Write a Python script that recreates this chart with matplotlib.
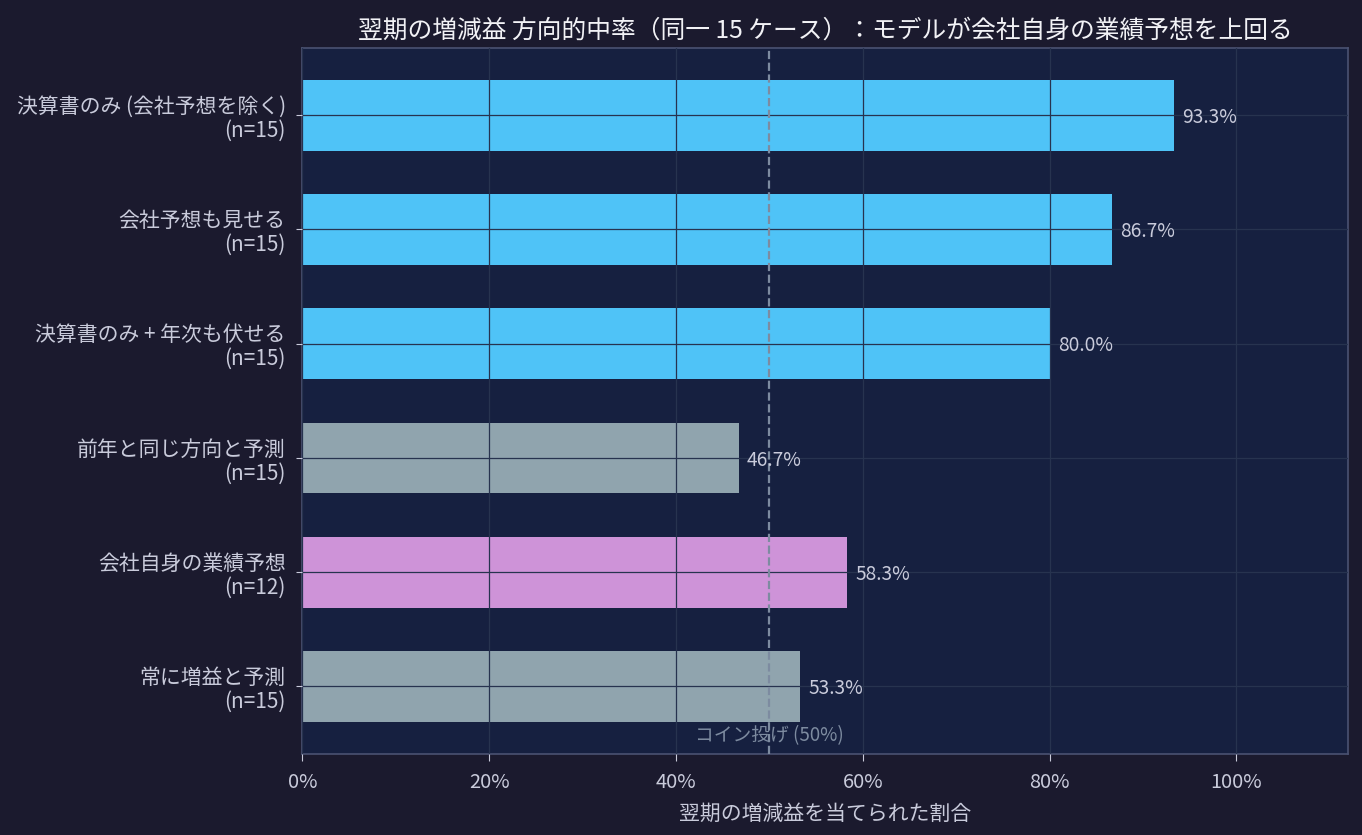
import matplotlib.pyplot as plt
from matplotlib.ticker import PercentFormatter

plt.rcParams['font.family'] = ['Noto Sans CJK JP', 'DejaVu Sans']

labels = [
    "決算書のみ (会社予想を除く)\n(n=15)",
    "会社予想も見せる\n(n=15)",
    "決算書のみ + 年次も伏せる\n(n=15)",
    "前年と同じ方向と予測\n(n=15)",
    "会社自身の業績予想\n(n=12)",
    "常に増益と予測\n(n=15)",
]
values = [0.933, 0.867, 0.800, 0.467, 0.583, 0.533]
colors = ["#4fc3f7", "#4fc3f7", "#4fc3f7", "#90a4ae", "#ce93d8", "#90a4ae"]

fig_bg = "#1b1a2e"
ax_bg = "#162040"
text_color = "#c9cbdb"

fig, ax = plt.subplots(figsize=(13.62, 8.35), dpi=100)
fig.patch.set_facecolor(fig_bg)
ax.set_facecolor(ax_bg)

pos = list(range(len(labels)))
ax.barh(pos, values, height=0.62, color=colors, zorder=1)
ax.invert_yaxis()

ax.set_axisbelow(False)
ax.grid(True, color="#27334f", linewidth=0.9, zorder=2)

ax.axvline(0.5, color="#7d8ba0", linestyle="--", linewidth=1.6, zorder=3)
ax.text(0.5, 5.43, "コイン投げ (50%)", color="#7d8ba0", fontsize=13.5,
        ha="center", va="center", zorder=4)

for p, v in zip(pos, values):
    ax.text(v + 0.009, p + 0.02, f"{v * 100:.1f}%", color=text_color, fontsize=13.8,
            va="center", ha="left", zorder=4)

ax.set_xlim(0, 1.12)
ax.xaxis.set_major_formatter(PercentFormatter(1.0, decimals=0))
ax.set_yticks(pos)
ax.set_yticklabels(labels, linespacing=1.12)
ax.tick_params(colors=text_color)
ax.tick_params(axis="y", length=4, pad=8, labelsize=15)
ax.tick_params(axis="x", length=5, pad=8, labelsize=14.4)
for s in ax.spines.values():
    s.set_color("#4a5272")
    s.set_linewidth(1.2)

ax.set_xlabel("翌期の増減益を当てられた割合", color=text_color, fontsize=15, labelpad=7)
ax.set_title("翌期の増減益 方向的中率（同一 15 ケース）：モデルが会社自身の業績予想を上回る",
             color="#f2f2f6", fontsize=17.8, pad=7)

plt.subplots_adjust(left=0.222, right=0.99, top=0.943, bottom=0.097)
plt.savefig("out.png", facecolor=fig_bg)
